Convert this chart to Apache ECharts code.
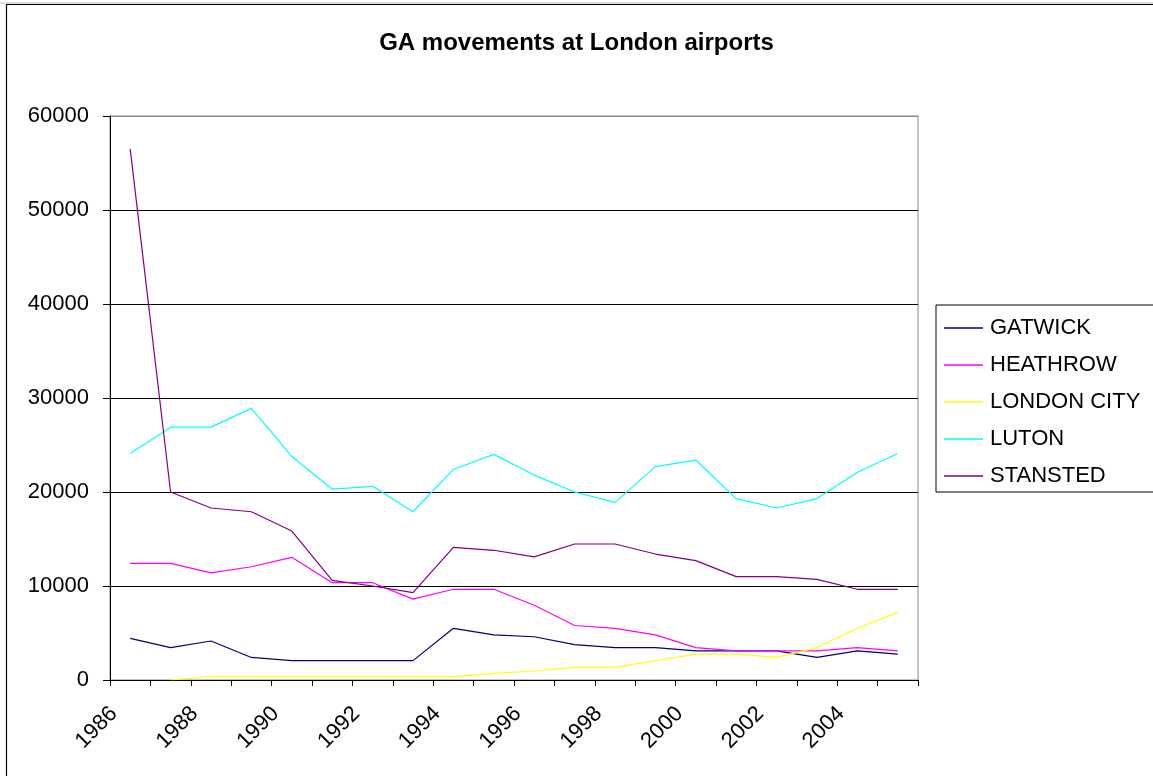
<!DOCTYPE html>
<html>
<head>
<meta charset="utf-8">
<script src="https://cdn.jsdelivr.net/npm/echarts@6/dist/echarts.min.js"></script>
<style>
html,body{margin:0;padding:0;background:#fff;}
#chart{width:1153px;height:776px;}
</style>
</head>
<body>
<div id="chart"></div>
<script>
const years = ['1986','1987','1988','1989','1990','1991','1992','1993','1994','1995','1996','1997','1998','1999','2000','2001','2002','2003','2004','2005'];
const gatwick    = [4430,3450,4150,2400,2060,2060,2060,2060,5500,4800,4600,3760,3450,3450,3100,3100,3100,2400,3100,2750];
const heathrow   = [12400,12400,11400,12050,13050,10350,10350,8600,9650,9650,7950,5800,5500,4800,3450,3100,3100,3100,3450,3100];
const londonCity = [null,0,350,350,350,350,350,350,350,700,960,1350,1350,2050,2750,2750,2400,3450,5500,7200];
const luton      = [24100,26900,26900,28900,23800,20300,20600,17900,22400,24000,21800,20000,18900,22700,23400,19300,18300,19300,22100,24100];
const stansted   = [56500,20000,18300,17900,15850,10600,10000,9300,14100,13800,13100,14470,14470,13400,12700,11000,11000,10700,9650,9650];
const yTicks = [0,10000,20000,30000,40000,50000,60000];

const names = ['GATWICK','HEATHROW','LONDON CITY','LUTON','STANSTED'];
const colors = ['#000080','#FF00FF','#FFFF00','#00FFFF','#800080'];
const values = [gatwick, heathrow, londonCity, luton, stansted];

const chart = echarts.init(document.getElementById('chart'), null, {renderer:'canvas'});
const font = "'Liberation Sans', Arial, sans-serif";

chart.setOption({
  animation:false,
  backgroundColor:'#ffffff',
  textStyle:{fontFamily:font},
  title:{
    text:'GA movements at London airports',
    left:'center', top:26,
    textStyle:{fontFamily:font, fontSize:24, fontWeight:'bold', color:'#000'}
  },
  grid:{left:110, right:235, top:116, bottom:96, show:true, borderColor:'#888', borderWidth:1, backgroundColor:'transparent'},
  legend:{
    orient:'vertical', left:936, top:305,
    padding:[12,40,5,8],
    itemGap:15, itemWidth:39, itemHeight:1.5,
    borderColor:'#000', borderWidth:1,
    textStyle:{fontFamily:font, fontSize:22, color:'#000', lineHeight:21, padding:[0,0,0,2]},
    data:names.map(n=>({name:n, icon:'rect'}))
  },
  xAxis:{
    type:'category', data:years, boundaryGap:true,
    axisLine:{lineStyle:{color:'#000', width:1}},
    axisTick:{show:true, interval:0, length:6, lineStyle:{color:'#000'}},
    axisLabel:{interval:1, rotate:45, margin:14, fontFamily:font, fontSize:22, color:'#000', padding:[0,23,0,0]},
    splitLine:{show:false}
  },
  yAxis:{
    type:'value', min:0, max:60000, interval:10000,
    axisLine:{show:true, lineStyle:{color:'#000', width:1}},
    axisTick:{show:true, length:7, lineStyle:{color:'#000'}},
    axisLabel:{margin:21, fontFamily:font, fontSize:22, color:'#000', formatter:v=>String(v)},
    splitLine:{show:true, lineStyle:{color:['#000','#000','#000','#000','#000','#000','#888'], width:1}}
  },
  series:values.map((v,i)=>({
    name:names[i], type:'line', data:v, symbol:'none', showSymbol:false,
    lineStyle:{color:colors[i], width:1.2}, itemStyle:{color:colors[i]},
    connectNulls:false
  })),
  graphic:[
    {type:'line', shape:{x1:0, y1:3, x2:1153, y2:3}, style:{stroke:'#bbb', lineWidth:1}},
    {type:'line', shape:{x1:6, y1:4.5, x2:1153, y2:4.5}, style:{stroke:'#000', lineWidth:1.2}},
    {type:'line', shape:{x1:6.5, y1:4, x2:6.5, y2:776}, style:{stroke:'#000', lineWidth:1.2}}
  ]
});
</script>
</body>
</html>
